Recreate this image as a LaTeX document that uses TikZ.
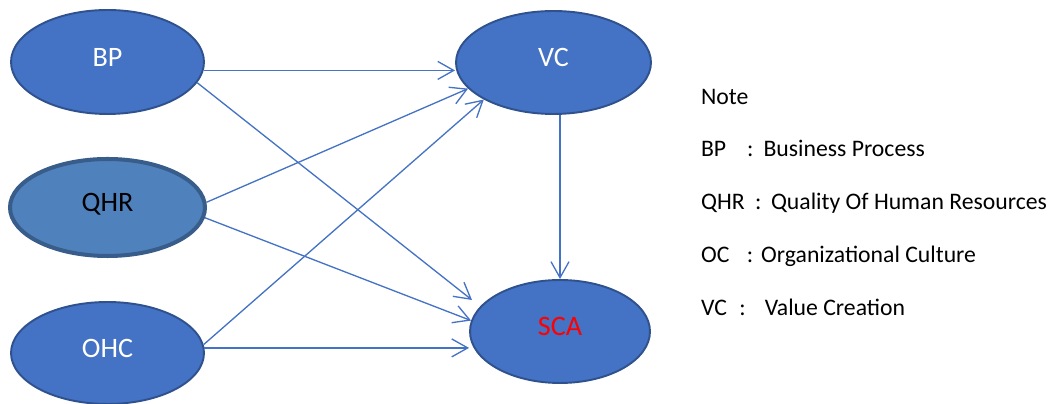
\documentclass[tikz,border=0pt]{standalone}
\usepackage{fontspec}
\setmainfont{Carlito}
\usetikzlibrary{shapes.geometric, arrows.meta, calc}
\definecolor{ovalfill}{HTML}{4472C4}
\definecolor{ovaldraw}{HTML}{2F528F}
\definecolor{qhrfill}{HTML}{4F81BD}
\definecolor{qhrdraw}{HTML}{385D8A}
\definecolor{linkcolor}{HTML}{4472C4}

\begin{document}
\begin{tikzpicture}[
    x=0.02cm, y=-0.02cm,
    oval/.style={ellipse, draw=ovaldraw, line width=1.1pt, fill=ovalfill, inner sep=0pt, text height=0.32cm, text depth=0.15cm, font=\fontsize{16}{19}\selectfont, text=white},
    note/.style={anchor=base west, inner sep=0pt, font=\fontsize{13.5}{16}\selectfont},
    arrow/.style={-{Straight Barb[length=0.32cm, width=0.36cm]}, line width=0.75pt, linkcolor}
]
    \useasboundingbox (0,0) rectangle (1055,404);

    % Ovals
    \node[oval, minimum width=3.86cm, minimum height=2.08cm] (bp) at (107.5,62) {BP};
    \node[oval, fill=qhrfill, draw=qhrdraw, line width=2.3pt, text=black, minimum width=3.9cm, minimum height=1.94cm] (qhr) at (107.5,207.5) {QHR};
    \node[oval, minimum width=3.86cm, minimum height=2.04cm] (ohc) at (107.5,353) {OHC};
    \node[oval, minimum width=3.9cm, minimum height=2.06cm] (vc) at (553.5,62.5) {VC};
    \node[oval, text=red, minimum width=3.6cm, minimum height=2.06cm] (sca) at (560,331.5) {SCA};

    % Arrows
    \draw[arrow] (bp.-5) -- (bp.-5 -| vc.west);
    \draw[arrow] (bp.-13) -- ($(sca.center)+(-88,-31.5)$);
    \draw[arrow] (qhr.3) -- (vc.197);
    \draw[arrow] (qhr.-6) -- (sca.173);
    \draw[arrow] (ohc.5) -- (vc.208);
    \draw[arrow] (ohc.3) -- (ohc.3 -| sca.west);
    \draw[arrow] (vc.south -| sca.north) -- (sca.north);

    % Note
    \node[note] (notehead) at (700.7,104.2) {Note};
    \node[note] (notebp) at (700.7,156.5) {BP\hspace{0.42cm}:\hspace{0.2cm}Business Process};
    \node[note] (noteqhr) at (700.7,209.2) {QHR\hspace{0.21cm}:\hspace{0.19cm}Quality Of Human Resources};
    \node[note] (noteoc) at (700.7,262.5) {OC\hspace{0.35cm}:\hspace{0.16cm}Organizational Culture};
    \node[note] (notevc) at (700.7,315.5) {VC\hspace{0.25cm}:\hspace{0.38cm}Value Creation};
\end{tikzpicture}
\end{document}
